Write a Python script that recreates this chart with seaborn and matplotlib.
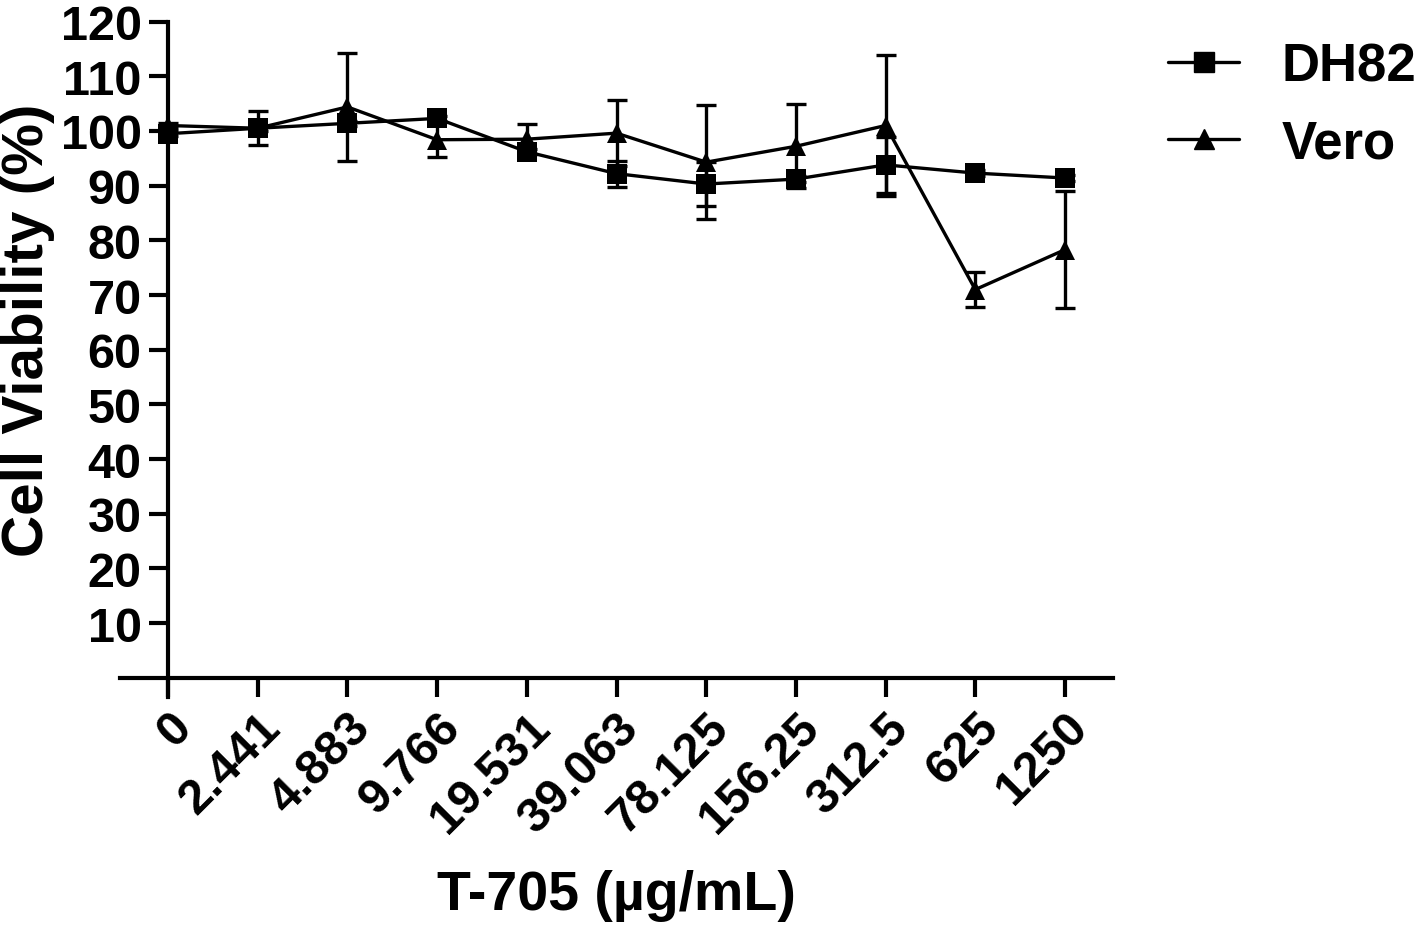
import numpy as np
import pandas as pd
import matplotlib
matplotlib.use("Agg")
import matplotlib.pyplot as plt
import seaborn as sns

# --- data ---
doses = ["0", "2.441", "4.883", "9.766", "19.531", "39.063",
         "78.125", "156.25", "312.5", "625", "1250"]
dh82_mean = [99.5, 100.5, 101.4, 102.3, 96.2, 92.2, 90.3, 91.2, 93.8, 92.3, 91.4]
dh82_err = [0.5, 3.1, 0.5, 0.5, 0.5, 2.4, 4.0, 0.5, 5.1, 0.5, 0.5]
vero_mean = [101.0, 100.5, 104.4, 98.4, 98.5, 99.6, 94.3, 97.2, 101.0, 71.0, 78.3]
vero_err = [0.5, 0.5, 9.9, 3.2, 2.8, 6.0, 10.4, 7.7, 12.9, 3.2, 10.7]

pos = np.arange(len(doses))
df = pd.DataFrame({
    "pos": np.concatenate([pos, pos]),
    "viability": dh82_mean + vero_mean,
    "cell": ["DH82"] * len(doses) + ["Vero"] * len(doses),
})

sns.set_style("ticks")
plt.rcParams['font.family'] = ['Liberation Sans', 'DejaVu Sans']
plt.rcParams['font.weight'] = 'bold'
plt.rcParams['text.color'] = 'black'
plt.rcParams['axes.labelcolor'] = 'black'
plt.rcParams['xtick.color'] = 'black'
plt.rcParams['ytick.color'] = 'black'
plt.rcParams['axes.edgecolor'] = 'black'

fig = plt.figure(figsize=(14.18, 9.28), dpi=100)
ax = fig.add_axes([120 / 1418, 1 - 698 / 928, (1113 - 120) / 1418, (698 - 22.6) / 928])

# error bars (small ones sit behind the markers)
for m, e in [(dh82_mean, dh82_err), (vero_mean, vero_err)]:
    ax.errorbar(pos, m, yerr=e, fmt='none', ecolor='black',
                elinewidth=2.4, capsize=7, capthick=2.4, zorder=2)

sns.lineplot(data=df, x="pos", y="viability", style="cell", hue="cell",
             palette={"DH82": "black", "Vero": "black"},
             markers={"DH82": "s", "Vero": "^"}, dashes=False,
             markersize=15, markeredgewidth=0, linewidth=2.4,
             ax=ax, legend=False, zorder=3)

ax.set_xlim(-0.535, 10.535)
ax.set_ylim(-3.5, 120)
ax.spines['left'].set_position(('data', 0))
ax.spines['bottom'].set_position(('data', 0))
ax.spines['top'].set_visible(False)
ax.spines['right'].set_visible(False)
for s in ['left', 'bottom']:
    ax.spines[s].set_linewidth(3)
ax.spines['left'].set_bounds(-3.5, 120)

ax.set_xticks(pos)
ax.set_xticklabels(doses, rotation=45, ha='right', rotation_mode='anchor')
ax.set_yticks(np.arange(10, 121, 10))
ax.tick_params(axis='both', direction='out', length=14, width=3,
               labelsize=35, pad=5)
for lab in ax.get_xticklabels() + ax.get_yticklabels():
    lab.set_fontweight('bold')

ax.set_xlabel("T-705 (µg/mL)", fontsize=40, fontweight='bold', labelpad=20)
ax.set_ylabel("Cell Viability (%)", fontsize=42, fontweight='bold')
ax.yaxis.set_label_coords(-0.065, 0.545)

handles = [
    plt.Line2D([], [], color='black', marker='s', markersize=15, linewidth=2.4),
    plt.Line2D([], [], color='black', marker='^', markersize=15, linewidth=2.4),
]
fig.legend(handles, ["DH82", "Vero"], loc='upper left',
           bbox_to_anchor=(1168 / 1418, 1 - 42 / 928), frameon=False,
           prop={'size': 38, 'weight': 'bold'}, handlelength=1.35,
           labelspacing=0.52, handletextpad=0.8, borderpad=0,
           borderaxespad=0)

fig.savefig("out.png", dpi=100)
